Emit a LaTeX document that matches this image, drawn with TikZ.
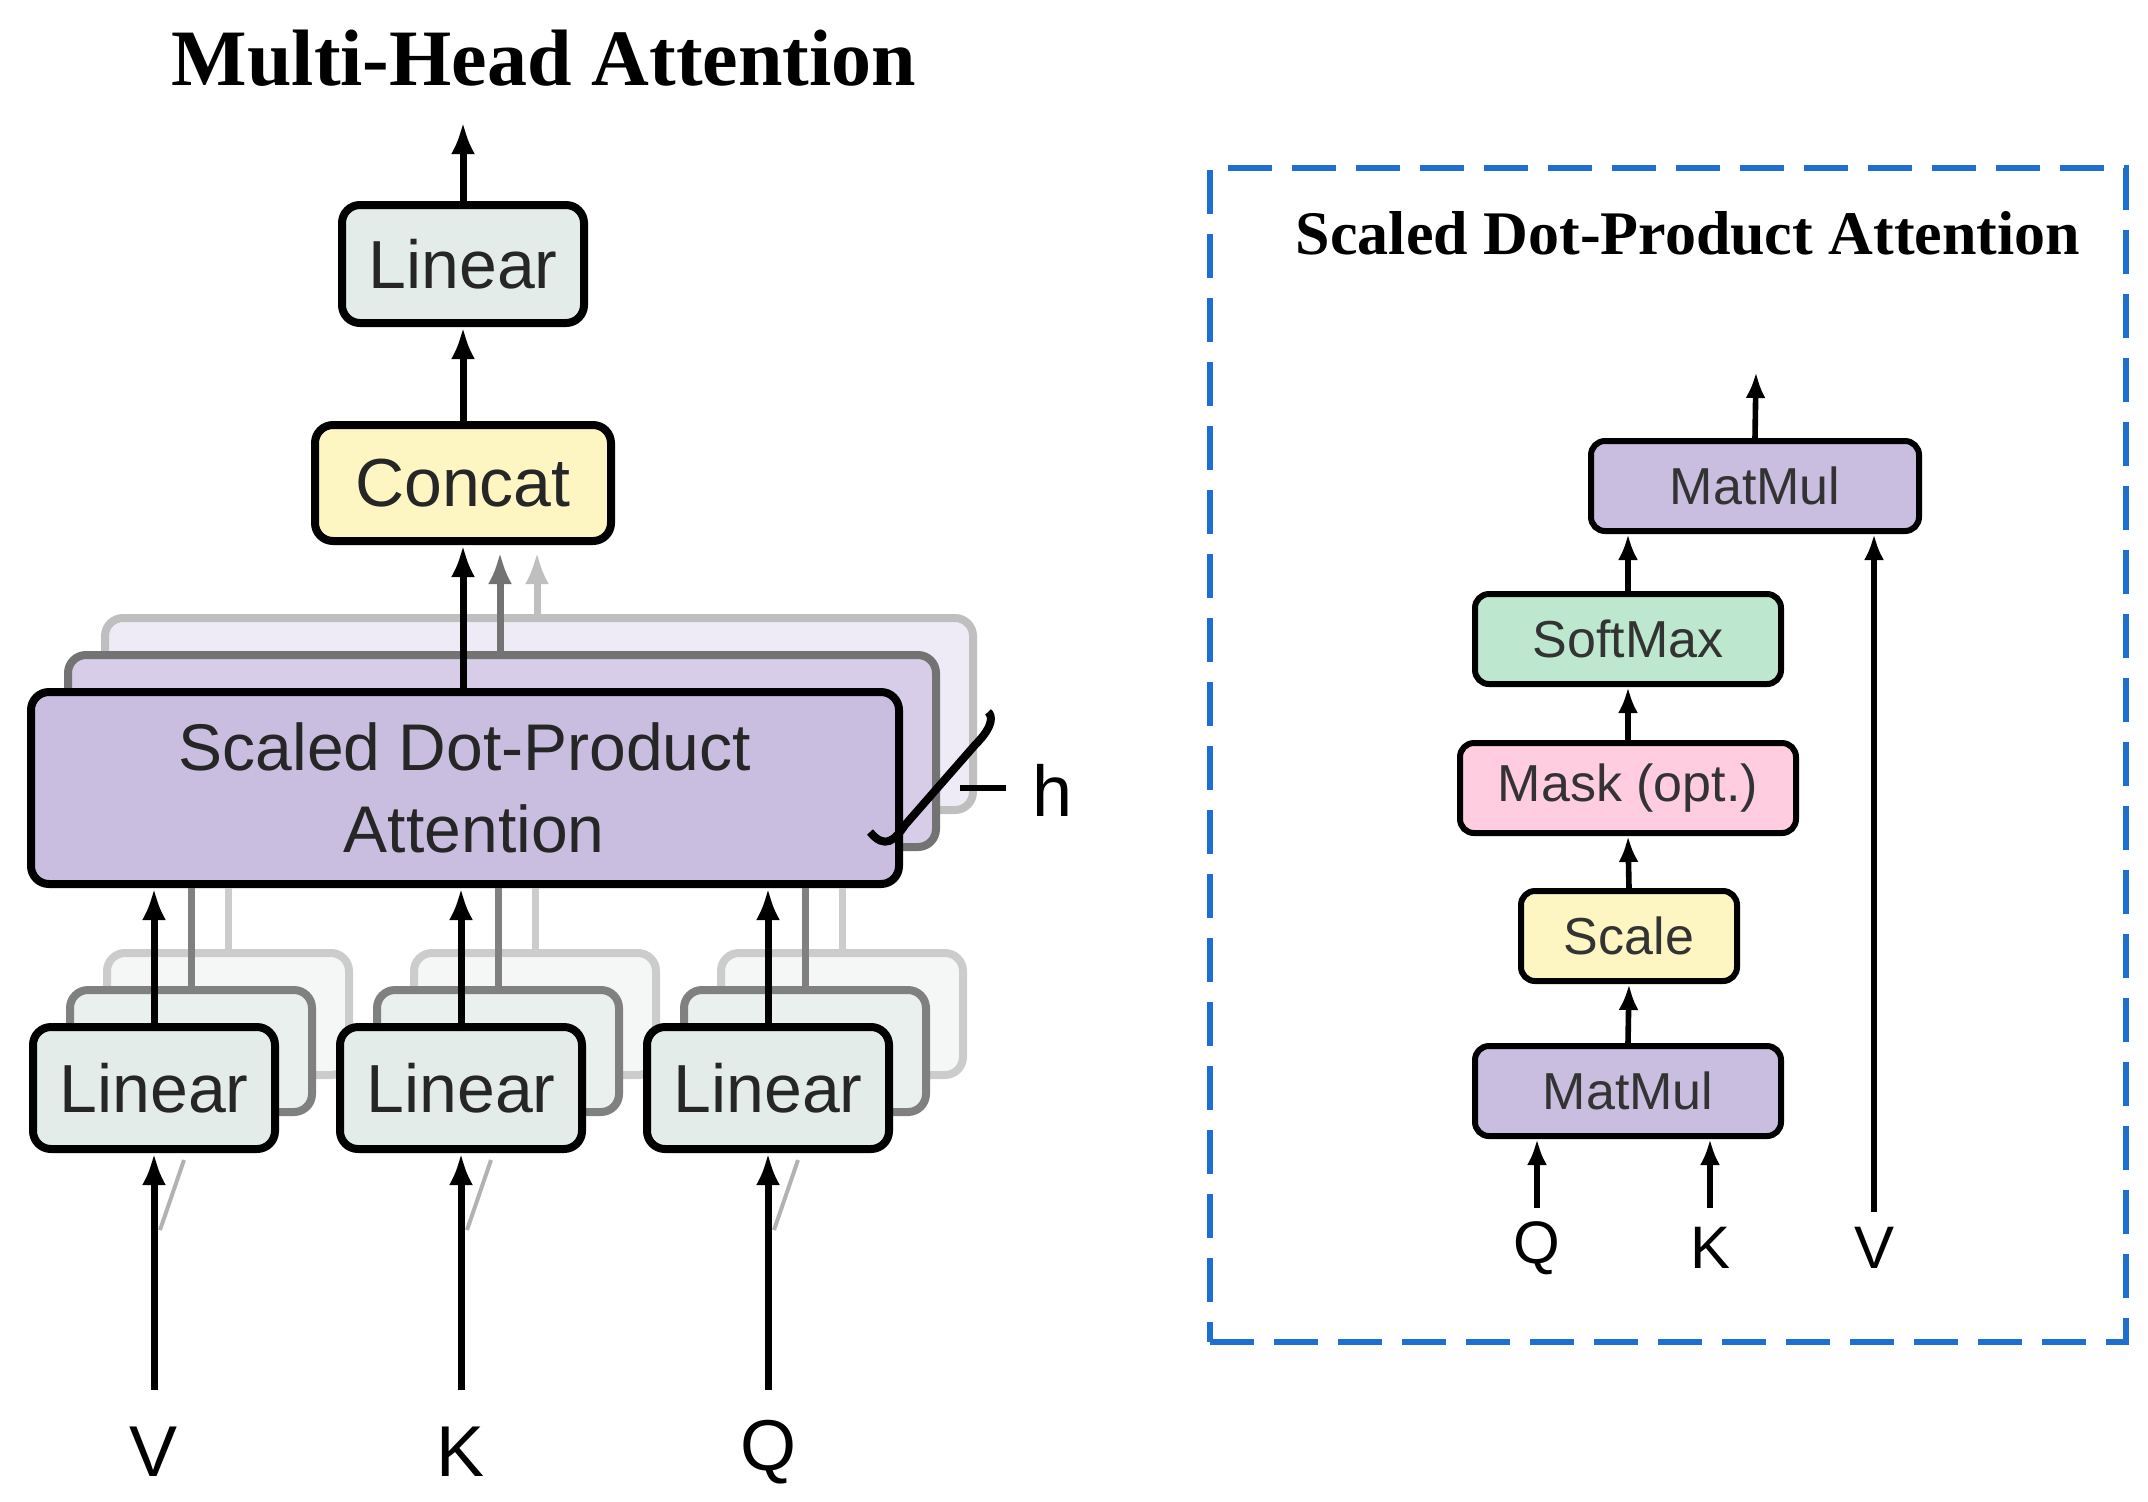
\documentclass[tikz,border=0pt]{standalone}
\usepackage{fontspec}
\setmainfont{Liberation Serif}
\newfontfamily\sansf{Liberation Sans}
\usetikzlibrary{arrows.meta}
\definecolor{lin}{HTML}{E3ECE8}
\definecolor{cat}{HTML}{FDF6C3}
\definecolor{sdp}{HTML}{C9BDE0}
\definecolor{smx}{HTML}{BDE8CF}
\definecolor{msk}{HTML}{FFCCE0}
\definecolor{dblue}{HTML}{1F6FCF}
\tikzset{
  box/.style={draw=black, line width=4pt, rounded corners=9pt, font=\sansf\fontsize{34}{40}\selectfont, text=black!85},
  sbox/.style={draw=black, line width=3pt, rounded corners=7pt, font=\sansf\fontsize{26}{30}\selectfont, text=black!80},
  arr/.style={line width=3.5pt, -{Latex[length=16pt,width=12pt]}},
  sarr/.style={line width=2.8pt, -{Latex[length=13pt,width=10pt]}},
  lbl/.style={font=\sansf\fontsize{36}{40}\selectfont},
  slbl/.style={font=\sansf\fontsize{30}{34}\selectfont},
}
\begin{document}
\begin{tikzpicture}[x=0.5pt,y=-0.5pt]
\useasboundingbox (0,0) rectangle (2148,1501);
% title
\node[font=\bfseries\fontsize{40}{46}\selectfont] (t1) at (544,58) {Multi-Head Attention};
% top linear and concat
\node[box, fill=lin, minimum width=121pt, minimum height=59pt] (lt) at (463,264) {Linear};
\node[box, fill=cat, minimum width=148pt, minimum height=58pt] (cc) at (463,483) {Concat};
\coordinate (out) at (463,122);
\draw[arr] (lt.north) -- (out);
\draw[arr] (cc.north) -- (lt.south);
% SDPA stack
\node[draw=black!25, line width=4pt, rounded corners=9pt, fill=sdp!30, minimum width=434pt, minimum height=96pt] (s3) at (539,714) {};
\node[draw=black!55, line width=4pt, rounded corners=9pt, fill=sdp!75, minimum width=434pt, minimum height=96pt] (s2) at (502,751) {};
\coordinate (c3) at (537,552);
\coordinate (c2) at (500,552);
\draw[arr, black!25] (s3.north -| c3) -- (c3);
\draw[arr, black!55] (s2.north -| c2) -- (c2);
\node[box, fill=sdp, minimum width=434pt, minimum height=96pt, align=center, font=\sansf\fontsize{33}{41}\selectfont] (s1) at (465,788) {Scaled Dot-Product\\ \ Attention};
\draw[arr] (s1.north -| cc.south) -- (cc.south);
% h brace
\coordinate (hb1) at (870,832);
\coordinate (hb2) at (988,712);
\draw[line width=4pt] (hb1) .. controls (885,850) and (895,840) .. (905,825) -- (975,745) .. controls (995,725) and (992,715) .. (hb2);
\coordinate (hl1) at (960,788);
\coordinate (hl2) at (1006,788);
\draw[line width=3pt] (hl1) -- (hl2);
\node[lbl, anchor=west] (h) at (1025,790) {h};
% bottom linears
\foreach \n/\x/\lab in {v/154/V,k/461/K,q/768/Q}{
  \node[draw=black!20, line width=4pt, rounded corners=9pt, fill=lin!40, minimum width=121pt, minimum height=61pt] (\n3) at (\x+74,1014) {};
  \node[draw=black!50, line width=4pt, rounded corners=9pt, fill=lin!80, minimum width=121pt, minimum height=61pt] (\n2) at (\x+37,1051) {};
  \node[box, fill=lin, minimum width=121pt, minimum height=61pt] (\n1) at (\x,1088) {Linear};
  \draw[line width=3.5pt, black!20] (\n3.north) -- (\n3.north |- s1.south);
  \draw[line width=3.5pt, black!50] (\n2.north) -- (\n2.north |- s1.south);
  \draw[arr] (\n1.north) -- (\n1.north |- s1.south);
  \node[lbl] (\n in) at (\x,1452) {\lab};
  \coordinate (\n s) at (\x,1390);
  \draw[line width=2pt, black!30] (\x+6,1230) -- (\x+30,1160);
  \draw[arr] (\n s) -- (\n1.south);
}
% right panel
\node[draw=dblue, line width=3pt, dash pattern=on 22pt off 10pt, minimum width=458pt, minimum height=587pt] (panel) at (1668,755) {};
\node[font=\bfseries\fontsize{31}{36}\selectfont] (t2) at (1688,233) {Scaled Dot-Product Attention};
\node[sbox, fill=sdp, minimum width=164pt, minimum height=45pt] (mm2) at (1755,486) {MatMul};
\node[sbox, fill=smx, minimum width=153pt, minimum height=45pt] (sm) at (1628,639) {SoftMax};
\node[sbox, fill=msk, minimum width=168pt, minimum height=45pt] (mk) at (1628,788) {Mask (opt.)};
\node[sbox, fill=cat, minimum width=108pt, minimum height=45pt] (sc) at (1629,936) {Scale};
\node[sbox, fill=sdp, minimum width=153pt, minimum height=45pt] (mm1) at (1628,1091) {MatMul};
\coordinate (o2) at (1756,372);
\draw[sarr] (mm2.north) -- (o2);
\draw[sarr] (sm.north) -- (sm.north |- mm2.south);
\draw[sarr] (mk.north) -- (sm.south);
\draw[sarr] (sc.north) -- (mk.south);
\draw[sarr] (mm1.north) -- (sc.south);
\node[slbl] (rq) at (1537,1248) {Q};
\node[slbl] (rk) at (1710,1248) {K};
\node[slbl] (rv) at (1874,1248) {V};
\coordinate (qs) at (1537,1208);
\coordinate (ks) at (1710,1208);
\coordinate (vs) at (1874,1212);
\draw[sarr] (qs) -- (qs |- mm1.south);
\draw[sarr] (ks) -- (ks |- mm1.south);
\draw[sarr] (vs) -- (vs |- mm2.south);
\end{tikzpicture}
\end{document}
